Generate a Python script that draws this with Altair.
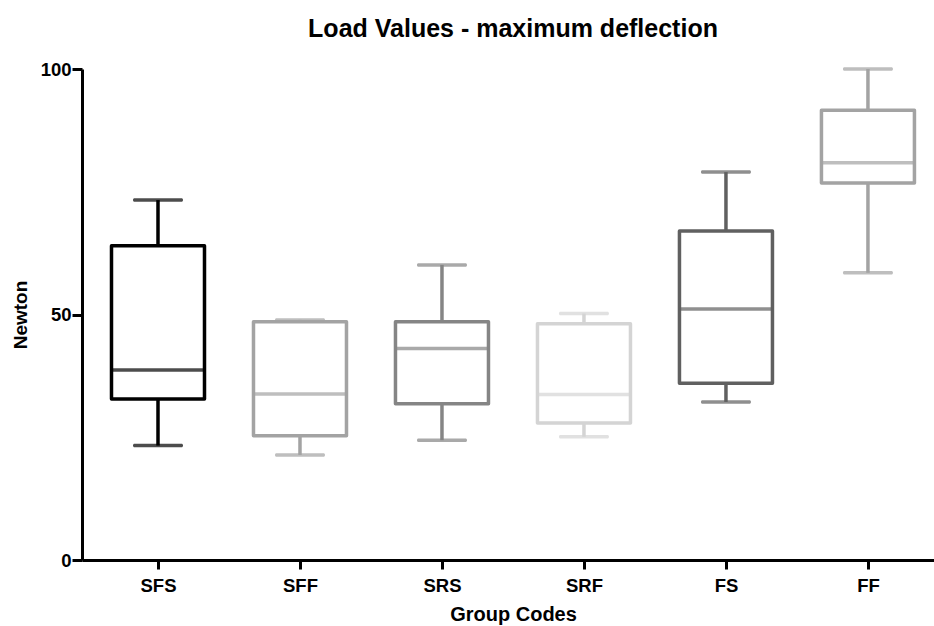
import json
import altair as alt
import pandas as pd

groups = ["SFS", "SFF", "SRS", "SRF", "FS", "FF"]
mins = [23.3, 21.4, 24.4, 25.1, 32.2, 58.5]
q1s = [32.8, 25.3, 31.8, 27.9, 36.0, 76.8]
medians = [38.7, 33.8, 43.1, 33.7, 51.1, 80.9]
q3s = [64.0, 48.5, 48.5, 48.1, 67.0, 91.6]
maxs = [73.3, 48.9, 60.1, 50.2, 79.0, 100.0]
colors = ["#000000", "#a3a3a3", "#858585", "#d4d4d4", "#606060", "#a3a3a3"]

df = pd.DataFrame({
    "group": groups,
    "idx": list(range(len(groups))),
    "min": mins,
    "q1": q1s,
    "median": medians,
    "q3": q3s,
    "max": maxs,
})

FONT = "Liberation Sans"
label_expr = json.dumps(groups) + "[datum.value]"

x = alt.X("idx:Q",
          scale=alt.Scale(domain=[-0.5, 5.43], nice=False, zero=False),
          axis=alt.Axis(values=list(range(len(groups))), labelExpr=label_expr,
                        title="Group Codes", grid=False, tickSize=9, tickWidth=3,
                        domainWidth=3, domainColor="black", tickColor="black",
                        labelFont=FONT, labelFontSize=18.5, labelFontWeight="bold",
                        labelColor="black", labelPadding=7,
                        titleFont=FONT, titleFontSize=20, titleFontWeight="bold",
                        titleColor="black", titlePadding=10, titleX=431))
yscale = alt.Scale(domain=[0, 100], nice=False)
yaxis = alt.Axis(values=[0, 50, 100], title="Newton", grid=False, tickSize=10,
                 tickWidth=3, domainWidth=3, domainColor="black", tickColor="black",
                 labelFont=FONT, labelFontSize=18.5, labelFontWeight="bold",
                 labelColor="black", labelPadding=1,
                 titleFont=FONT, titleFontSize=19, titleFontWeight="bold",
                 titleColor="black", titlePadding=10)
color = alt.Color("group:N", scale=alt.Scale(domain=groups, range=colors), legend=None)

base = alt.Chart(df)
SW = 3.5

whisker_low = base.mark_rule(strokeWidth=SW).encode(
    x=x, y=alt.Y("min:Q", scale=yscale, axis=yaxis), y2="q1:Q", color=color)
whisker_high = base.mark_rule(strokeWidth=SW).encode(
    x=x, y=alt.Y("q3:Q", scale=yscale, axis=yaxis), y2="max:Q", color=color)
box = base.mark_bar(size=93, fill="white", strokeWidth=SW, strokeJoin="round").encode(
    x=x, y=alt.Y("q1:Q", scale=yscale, axis=yaxis), y2="q3:Q", stroke=color)
med = base.mark_tick(orient="horizontal", size=93, thickness=SW).encode(
    x=x, y=alt.Y("median:Q", scale=yscale, axis=yaxis), color=color)
cap_low = base.mark_tick(orient="horizontal", size=50, thickness=SW, cornerRadius=1.5).encode(
    x=x, y=alt.Y("min:Q", scale=yscale, axis=yaxis), color=color)
cap_high = base.mark_tick(orient="horizontal", size=50, thickness=SW, cornerRadius=1.5).encode(
    x=x, y=alt.Y("max:Q", scale=yscale, axis=yaxis), color=color)

chart = alt.layer(whisker_low, whisker_high, box, med, cap_low, cap_high).properties(
    width=852, height=491,
    background="white",
    title=alt.TitleParams("Load Values - maximum deflection", font=FONT, fontSize=25,
                          fontWeight="bold", color="black", offset=18, dx=5,
                          anchor="middle"),
    autosize=alt.AutoSizeParams(type="none"),
    padding={"left": 82, "top": 69, "right": 0, "bottom": 66},
).configure_view(stroke=None, strokeWidth=0).configure_axis(grid=False)

chart.save("out.html", embed_options={"renderer": "svg", "actions": False})
